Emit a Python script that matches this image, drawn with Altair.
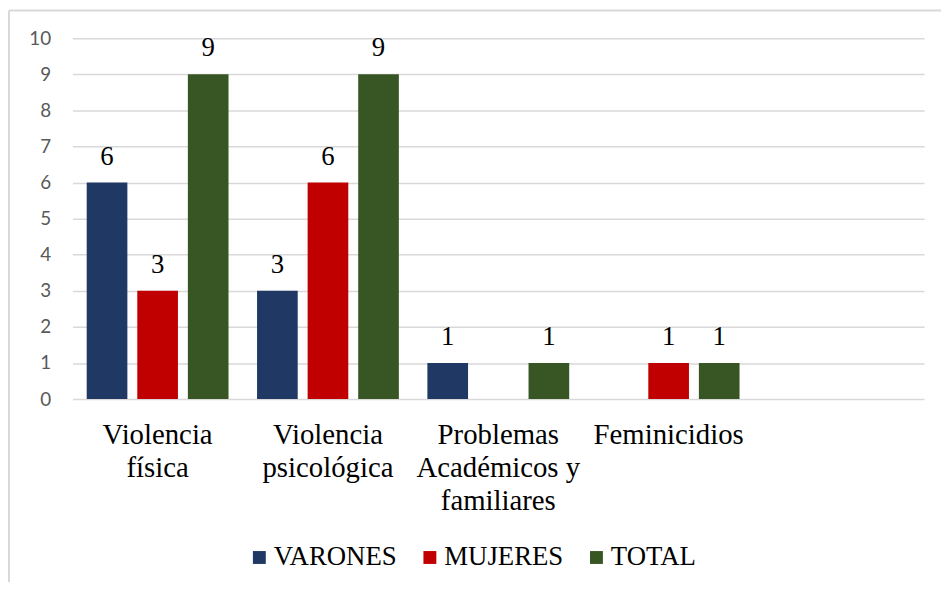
import altair as alt
import pandas as pd

categories = ["Violencia|física", "Violencia|psicológica", "Problemas|Académicos y|familiares", "Feminicidios", " "]
series = ["VARONES", "MUJERES", "TOTAL"]
varones = [6, 3, 1, None]
mujeres = [3, 6, None, 1]
total = [9, 9, 1, 1]
colors = ["#1F3864", "#C00000", "#375623"]
y_ticks = list(range(0, 11))

rows = []
for s, vals in zip(series, [varones, mujeres, total]):
    for c, v in zip(categories, vals):
        if v is not None:
            rows.append({"categoria": c, "serie": s, "valor": v})
df = pd.DataFrame(rows)

W, H = 859, 364
serif = "Liberation Serif"

x_enc = alt.X(
    "categoria:N",
    scale=alt.Scale(domain=categories, paddingInner=0, paddingOuter=0),
    axis=alt.Axis(
        title=None, labelAngle=0, ticks=False, domain=False,
        labelFont=serif, labelFontSize=29, labelColor="#000000",
        labelLineHeight=33, labelExpr="split(datum.label, '|')",
        labelLimit=400, labelPadding=22, labelBaseline="top", labelOverlap=False,
    ),
)
xoff = alt.XOffset(
    "serie:N",
    scale=alt.Scale(domain=series, paddingInner=0.196, paddingOuter=0.282),
)
y_enc = alt.Y(
    "valor:Q",
    scale=alt.Scale(domain=[0, 10]),
    axis=alt.Axis(
        title=None, values=y_ticks, tickCount=11, ticks=False, domain=False,
        grid=True, gridColor="#D9D9D9", gridWidth=1.5,
        labelFont="Lato", labelFontSize=19, labelColor="#595959",
        labelPadding=22, labelOverlap=False,
    ),
)

bars = alt.Chart(df).mark_bar().encode(
    x=x_enc,
    xOffset=xoff,
    y=y_enc,
    color=alt.Color(
        "serie:N",
        scale=alt.Scale(domain=series, range=colors),
        legend=alt.Legend(
            title=None, orient="none", direction="horizontal",
            legendX=175, legendY=510,
            symbolType="square", symbolSize=169, symbolStrokeWidth=0,
            labelFont=serif, labelFontSize=27, labelColor="#000000",
            labelOffset=1, columnPadding=19, labelLimit=300,
        ),
    ),
)

labels = alt.Chart(df).mark_text(
    font=serif, fontSize=27, color="#000000", baseline="alphabetic", dy=-18
).encode(
    x=x_enc,
    xOffset=xoff,
    y=y_enc,
    text="valor:Q",
)

one = alt.Data(values=[{"a": 1}])
border_left = alt.Chart(one).mark_rule(color="#D9D9D9", strokeWidth=2).encode(
    x=alt.value(-64), y=alt.value(-28), y2=alt.value(600)
)
border_top = alt.Chart(one).mark_rule(color="#D9D9D9", strokeWidth=2).encode(
    x=alt.value(-64), x2=alt.value(900), y=alt.value(-28)
)

chart = alt.layer(bars, labels, border_left, border_top).properties(
    width=W, height=H,
    autosize=alt.AutoSizeParams(type="none"),
    padding={"left": 65, "top": 28, "right": 17, "bottom": 182},
).configure_view(stroke=None)

chart.save("out.html", embed_options={"renderer": "svg", "actions": False})
